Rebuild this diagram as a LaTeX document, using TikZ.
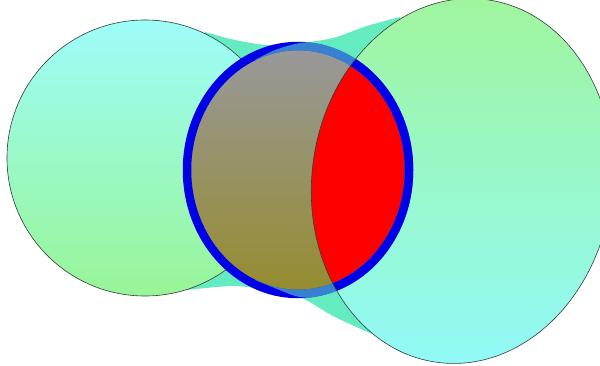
\documentclass[tikz,border=0pt]{standalone}
\definecolor{tube}{RGB}{100,236,192}
\definecolor{ringblue}{RGB}{0,0,230}
\definecolor{lcTop}{RGB}{158,252,250}
\definecolor{lcMid}{RGB}{140,250,215}
\definecolor{lcBot}{RGB}{152,245,150}
\definecolor{rcTop}{RGB}{160,245,155}
\definecolor{rcMid}{RGB}{140,245,205}
\definecolor{rcBot}{RGB}{145,250,250}
\definecolor{diskTop}{RGB}{152,152,156}
\definecolor{diskBot}{RGB}{150,140,45}
\definecolor{edge}{RGB}{50,60,60}
\begin{document}
\begin{tikzpicture}[x=1pt,y=-1pt,
  outline/.style={draw=edge, line width=0.6pt},
  rightrot/.style={rotate around={-8:(462,181)}},
  ringline/.style={line width=8.5pt}]
\useasboundingbox (0,0) rectangle (600,366);
\def\tubepath{(150,158) -- plot[smooth] coordinates {(205,32) (235,40) (267,45) (300,43) (333,38) (367,26) (400,17)} -- (462,181) -- plot[smooth] coordinates {(372,334) (333,316) (300,297) (267,290) (233,286) (187,290)} -- cycle}
\def\rightell{(462,181) ellipse [x radius=150, y radius=183]}
\def\disk{(298,170) ellipse [x radius=111, y radius=124]}
% tube surface
\fill[tube] \tubepath;
% left circle
\shade[top color=lcTop, middle color=lcMid, bottom color=lcBot] (145,158) circle [radius=138];
\draw[outline] (145,158) circle [radius=138];
% right ellipse
\shade[rightrot, top color=rcTop, middle color=rcMid, bottom color=rcBot] \rightell;
% middle disk
\shade[top color=diskTop, bottom color=diskBot] \disk;
\begin{scope}
  \clip[rightrot] \rightell;
  \fill[red] \disk;
\end{scope}
% ring
\draw[ringblue, ringline] \disk;
\begin{scope}
  \clip plot[smooth] coordinates {(255,60) (275,50) (300,43) (330,40) (370,30)} -- (430,30) -- (430,320)
        -- plot[smooth] coordinates {(340,300) (300,297) (277,289) (255,280)} -- cycle;
  \draw[tube, opacity=0.55, ringline] \disk;
\end{scope}
\begin{scope}
  \clip[rightrot] \rightell;
  \draw[ringblue, ringline] \disk;
\end{scope}
\draw[outline, rightrot] \rightell;
\end{tikzpicture}
\end{document}
